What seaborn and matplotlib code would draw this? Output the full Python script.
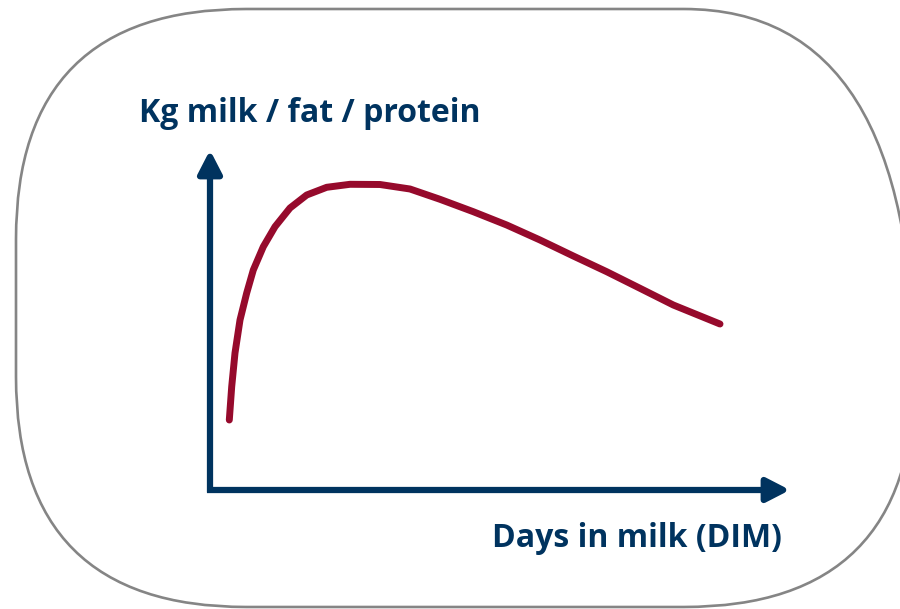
import matplotlib
matplotlib.use('Agg')
import matplotlib.pyplot as plt
from matplotlib.patches import FancyBboxPatch
from matplotlib.transforms import IdentityTransform
import seaborn as sb
import pandas as pd


# lactation curve (schematic units)
dim = [9.65, 10.85, 12.5, 15, 18.35, 21.65, 26.65, 32.5, 40, 48.35, 58.35, 70, 85, 100,
       115, 131.65, 148.35, 165, 181.65, 198.35, 215, 231.65, 255]
kg = [7.0, 10.33, 13.7, 17.0, 19.7, 22.0, 24.33, 26.33, 28.2, 29.5, 30.27, 30.57, 30.55, 30.1,
      29.07, 27.83, 26.5, 25.0, 23.4, 21.83, 20.17, 18.5, 16.6]

x_label = 'Days in milk (DIM)'
y_label = 'Kg milk / fat / protein'

NAVY = '#00335f'
RED = '#960a2c'
GREY = '#858585'

sb.set_style('white')
plt.rcParams['font.family'] = ['Open Sans', 'DejaVu Sans']

fig = plt.figure(figsize = (9, 6.09), dpi = 100)
ax = fig.add_axes([0, 0, 1, 1])
ax.set_xlim(-105, 345)
ax.set_ylim(-11.9, 49)
ax.axis('off')

# rounded frame, in pixels (runs off the right edge)
frame = FancyBboxPatch((16, 2), 898, 598, boxstyle = 'round,pad=0,rounding_size=230',
                       transform = IdentityTransform(), fill = False, edgecolor = GREY, linewidth = 1.9)
fig.patches.append(frame)

# axis arrows
arrow = dict(arrowstyle = '-|>,head_length=0.7,head_width=0.36', color = NAVY, lw = 4.5,
             shrinkA = 0, shrinkB = 0, mutation_scale = 20, capstyle = 'butt')
ax.annotate('', xy = (0, 34), xytext = (0, -0.25), arrowprops = arrow)
ax.annotate('', xy = (290, 0), xytext = (-1.5, 0), arrowprops = arrow)

df = pd.DataFrame({'dim': dim, 'kg': kg})
sb.lineplot(data = df, x = 'dim', y = 'kg', color = RED, linewidth = 5, ax = ax,
            solid_capstyle = 'round', solid_joinstyle = 'round', sort = False)

fig.text(139 / 900, 1 - 122 / 609, y_label, ha = 'left', va = 'baseline',
         fontsize = 23, fontweight = 'bold', color = NAVY)
fig.text(782 / 900, 1 - 547 / 609, x_label, ha = 'right', va = 'baseline',
         fontsize = 23, fontweight = 'bold', color = NAVY)

fig.savefig('out.png', dpi = 100)
